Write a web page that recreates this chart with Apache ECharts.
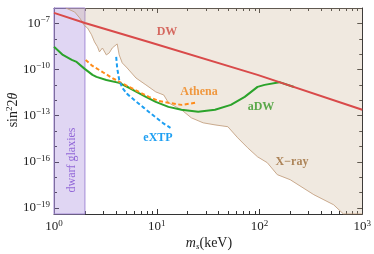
<!DOCTYPE html>
<html><head><meta charset="utf-8">
<script src="https://cdn.jsdelivr.net/npm/echarts@6/dist/echarts.min.js"></script>
<style>html,body{margin:0;padding:0;background:#fff}#c{width:374px;height:254px}</style>
</head><body><div id="c"></div>
<script>
const xMin = 1, xMax = 1000, yMin = 4e-20, yMax = 1e-6;
const xMajorTicks = [1, 10, 100, 1000];
const xMinorTicks = [2,3,4,5,6,7,8,9,20,30,40,50,60,70,80,90,200,300,400,500,600,700,800,900];
const yLabelTicks = [1e-7, 1e-10, 1e-13, 1e-16, 1e-19];
const yMinorTicks = [1e-6, 1e-8, 1e-9, 1e-11, 1e-12, 1e-14, 1e-15, 1e-17, 1e-18];
const dwarfBand = [1, 2];

const xrayMass = [1.30,1.59,1.78,1.99,2.12,2.32,2.48,2.65,2.77,2.96,3.23,3.45,3.69,4.12,4.31,4.61,5.15,6.28,7.84,9.78,11.7,13.0,17.4,21.7,28.3,36.9,49.2,61.4,76.7,95.7,119,149,199,338,526,656,1000];
const xrayMix = [1.0e-6,5.5e-7,2.24e-7,6.8e-8,5.0e-8,1.8e-8,6.2e-9,3.0e-9,1.4e-9,2.5e-9,8.9e-10,1.2e-9,2.5e-9,4.6e-9,8.9e-10,2.7e-10,1.26e-10,2.8e-11,1.0e-11,3.5e-12,2.2e-12,6.8e-13,2.4e-13,7.2e-14,3.4e-14,2.5e-14,1.9e-14,3.6e-15,8.1e-16,2.1e-16,8.7e-17,1.45e-17,6.8e-18,7.2e-19,1.6e-19,4e-20,4e-20];

const dwMass = [1, 2, 8.38, 95.7, 1000];
const dwMix = [4.8e-7, 1.07e-7, 6.2e-9, 4.5e-11, 2.4e-13];

const adwMass = [1.0,1.22,1.49,1.66,1.99,2.37,2.59,3.23,4.31,5.38,7.84,9.78,13.0,17.4,25.3,36.9,52.6,71.8,95.7,112,156,217];
const adwMix = [3.0e-9,8.9e-10,4.2e-10,3.1e-10,1.1e-10,4.5e-11,3.3e-11,2.1e-11,1.35e-11,6.5e-12,1.66e-12,7.9e-13,3.7e-13,2.4e-13,1.8e-13,2.4e-13,5.0e-13,1.66e-12,7.4e-12,1.0e-11,1.5e-11,7.2e-12];

const athenaMass = [2.03,2.37,2.96,3.69,4.51,5.38,6.71,8.38,10.4,13.0,17.4,23.7];
const athenaMix = [4.2e-10,1.7e-10,6.9e-11,2.8e-11,1.35e-11,7.4e-12,3.5e-12,1.66e-12,9.1e-13,6.8e-13,5.0e-13,6.8e-13];

const extpMass = [4.03,4.12,4.31,4.61,5.15,6.01,7.50,9.35,11.7,13.6];
const extpMix = [6.6e-10,1.26e-10,2.1e-11,6.5e-12,2.6e-12,1.07e-12,3.2e-13,9.8e-14,3.0e-14,1.6e-14];

const zip = (a, b) => a.map((v, i) => [v, b[i]]);
const SERIF = 'Liberation Serif';
const AX = '#333';
const expOf = v => Math.round(Math.log10(v));
const supLabel = v => { const e = expOf(v); return '{b|10}{s|' + (e < 0 ? '\u2212' + (-e) : e) + '}'; };
const labelRich = {
  b: {fontFamily: SERIF, fontSize: 13, color: '#222', lineHeight: 16},
  s: {fontFamily: SERIF, fontSize: 9, color: '#222', verticalAlign: 'top', lineHeight: 10}
};

function xAx(pos, ticks, len, withLabel, line) {
  return {
    type: 'log', min: xMin, max: xMax, position: pos,
    axisLine: {show: line, lineStyle: {color: AX, width: 1}},
    axisTick: {show: true, inside: true, length: len, customValues: ticks, lineStyle: {color: AX}},
    axisLabel: withLabel ? {show: true, customValues: ticks, margin: 5, formatter: supLabel, rich: labelRich} : {show: false},
    splitLine: {show: false}, minorTick: {show: false}
  };
}
function yAx(pos, ticks, len, withLabel, line) {
  return {
    type: 'log', min: yMin, max: yMax, position: pos,
    axisLine: {show: line, lineStyle: {color: AX, width: 1}},
    axisTick: {show: true, inside: true, length: len, customValues: ticks, lineStyle: {color: AX}},
    axisLabel: withLabel ? {show: true, customValues: ticks, margin: 4, formatter: supLabel, rich: labelRich} : {show: false},
    splitLine: {show: false}, minorTick: {show: false}
  };
}

const chart = echarts.init(document.getElementById('c'), null, {renderer: 'canvas'});
chart.setOption({
  animation: false,
  grid: {left: 54, right: 10, top: 8, bottom: 40, containLabel: false},
  xAxis: [
    xAx('bottom', xMajorTicks, 5, true, true),
    xAx('bottom', xMinorTicks, 3, false, false),
    xAx('top', xMajorTicks, 5, false, true),
    xAx('top', xMinorTicks, 3, false, false)
  ],
  yAxis: [
    yAx('left', yLabelTicks, 5, true, true),
    yAx('left', yMinorTicks, 3, false, false),
    yAx('right', yLabelTicks, 5, false, true),
    yAx('right', yMinorTicks, 3, false, false)
  ],
  series: [
    {
      type: 'line', name: 'X-ray', data: zip(xrayMass, xrayMix), symbol: 'none',
      lineStyle: {color: '#c4a282', width: 0.9},
      areaStyle: {origin: 'end', color: 'rgba(205,180,150,0.42)'},
      z: 1
    },
    {
      type: 'line', name: 'band', data: [], symbol: 'none',
      markArea: {silent: true, itemStyle: {color: 'rgba(160,130,220,0.33)', borderColor: '#a48bd6', borderWidth: 1},
        data: [[{xAxis: dwarfBand[0]}, {xAxis: dwarfBand[1]}]]},
      z: 2
    },
    {type: 'line', name: 'DW', data: zip(dwMass, dwMix), symbol: 'none', lineStyle: {color: '#d94a4a', width: 2}, z: 5},
    {type: 'line', name: 'aDW', data: zip(adwMass, adwMix), symbol: 'none', lineStyle: {color: '#2ba32b', width: 2}, z: 4},
    {type: 'line', name: 'Athena', data: zip(athenaMass, athenaMix), symbol: 'none', lineStyle: {color: '#ff8c1a', width: 2, type: [4, 2.5]}, z: 4},
    {type: 'line', name: 'eXTP', data: zip(extpMass, extpMix), symbol: 'none', lineStyle: {color: '#1e9ff2', width: 2, type: [4, 2.5]}, z: 4}
  ],
  graphic: [
    {type: 'text', x: 167, y: 32, style: {text: 'DW', fill: '#d94a4a', font: 'bold 12px "Liberation Serif"', textAlign: 'center', textVerticalAlign: 'middle'}},
    {type: 'text', x: 199, y: 92, style: {text: 'Athena', fill: '#ff8c1a', font: 'bold 12px "Liberation Serif"', textAlign: 'center', textVerticalAlign: 'middle'}},
    {type: 'text', x: 261, y: 107, style: {text: 'aDW', fill: '#2ba32b', font: 'bold 12px "Liberation Serif"', textAlign: 'center', textVerticalAlign: 'middle'}},
    {type: 'text', x: 158, y: 138, style: {text: 'eXTP', fill: '#1e9ff2', font: 'bold 12px "Liberation Serif"', textAlign: 'center', textVerticalAlign: 'middle'}},
    {type: 'text', x: 292, y: 162, style: {text: 'X\u2212ray', fill: '#a0703f', font: 'bold 12px "Liberation Serif"', textAlign: 'center', textVerticalAlign: 'middle'}},
    {type: 'text', x: 72, y: 160, rotation: Math.PI / 2, style: {text: 'dwarf glaxies', fill: '#8a5ad6', font: '12px "Liberation Serif"', textAlign: 'center', textVerticalAlign: 'middle'}},
    {type: 'text', x: 13, y: 110, rotation: Math.PI / 2, style: {
      text: '{n|sin}{s|2}{n|2}{i|\u03b8}', textAlign: 'center', textVerticalAlign: 'middle',
      rich: {
        n: {fontFamily: SERIF, fontSize: 14, fill: '#222', lineHeight: 16},
        i: {fontFamily: SERIF, fontStyle: 'italic', fontSize: 14, fill: '#222', lineHeight: 16},
        s: {fontFamily: SERIF, fontSize: 9, fill: '#222', verticalAlign: 'top', lineHeight: 10}
      }}},
    {type: 'text', x: 209, y: 243, style: {
      text: '{i|m}{b|s}{n|(keV)}', textAlign: 'center', textVerticalAlign: 'middle',
      rich: {
        n: {fontFamily: SERIF, fontSize: 14, fill: '#222', lineHeight: 16},
        i: {fontFamily: SERIF, fontStyle: 'italic', fontSize: 14, fill: '#222', lineHeight: 16},
        b: {fontFamily: SERIF, fontStyle: 'italic', fontSize: 9, fill: '#222', verticalAlign: 'bottom', lineHeight: 12}
      }}}
  ]
});
</script>
</body></html>
